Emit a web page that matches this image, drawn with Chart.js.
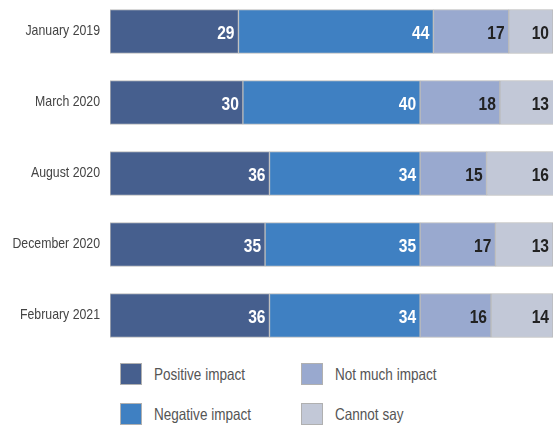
<!DOCTYPE html>
<html>
<head>
<meta charset="utf-8">
<script src="https://cdn.jsdelivr.net/npm/chart.js@4.4.0/dist/chart.umd.min.js"></script>
<style>
  body { margin: 0; background: #fff; }
  #wrap { position: relative; width: 554px; height: 425px; overflow: hidden; }
  #box { position: absolute; left: 0; top: -4px; width: 554px; height: 355px; }
  .item { position: absolute; display: flex; align-items: center; font-family: "Liberation Sans", Arial, sans-serif; font-size: 16.5px; color: #555; white-space: nowrap; }
  .swatch { width: 20px; height: 20px; border: 1px solid #b0b0b0; margin-right: 12px; }
  .name { display: inline-block; transform: scaleX(0.82); transform-origin: left center; }
</style>
</head>
<body>
<div id="wrap">
  <div id="box"><canvas id="chart"></canvas></div>
  <div id="legend"></div>
</div>
<script>
const categories = ["January 2019", "March 2020", "August 2020", "December 2020", "February 2021"];
const seriesNames = ["Positive impact", "Negative impact", "Not much impact", "Cannot say"];
const positive = [29, 30, 36, 35, 36];
const negative = [44, 40, 34, 35, 34];
const notMuch = [17, 18, 15, 17, 16];
const cannotSay = [10, 13, 16, 13, 14];

const colors = ["#465f8e", "#3f80c2", "#99a9cf", "#c2c8d7"];
const labelColors = ["#ffffff", "#ffffff", "#222222", "#222222"];
const values = [positive, negative, notMuch, cannotSay];
const squeeze = 0.82;

// narrow text: the original uses a condensed face, so squeeze a normal one
function narrowText(ctx, text, x, y) {
  ctx.save();
  ctx.translate(x, y);
  ctx.scale(squeeze, 1);
  ctx.fillText(text, 0, 0);
  ctx.restore();
}

const barLabels = {
  id: "barLabels",
  afterDatasetsDraw(chart) {
    const ctx = chart.ctx;
    ctx.save();
    ctx.font = "bold 19px 'Liberation Sans', Arial, sans-serif";
    ctx.textAlign = "right";
    ctx.textBaseline = "middle";
    chart.data.datasets.forEach((ds, i) => {
      chart.getDatasetMeta(i).data.forEach((bar, j) => {
        const right = Math.min(bar.x, chart.chartArea.right);
        ctx.fillStyle = labelColors[i];
        narrowText(ctx, String(ds.data[j]), right - 4, bar.y + 2);
      });
    });

    // category names on the left
    const y = chart.scales.y;
    ctx.font = "15px 'Liberation Sans', Arial, sans-serif";
    ctx.fillStyle = "#444";
    categories.forEach((c, j) => {
      narrowText(ctx, c, chart.chartArea.left - 10, y.getPixelForValue(j) - 1);
    });
    ctx.restore();
  }
};

new Chart(document.getElementById("chart"), {
  type: "bar",
  data: {
    labels: categories,
    datasets: seriesNames.map((name, i) => ({
      label: name,
      data: values[i],
      backgroundColor: colors[i],
      borderColor: "#bbbbbb",
      borderWidth: 1,
      borderSkipped: false,
      barThickness: 44
    }))
  },
  options: {
    indexAxis: "y",
    responsive: true,
    maintainAspectRatio: false,
    animation: false,
    layout: { padding: { right: 1, top: 0, bottom: 0, left: 0 } },
    plugins: { legend: { display: false }, tooltip: { enabled: false } },
    scales: {
      x: { stacked: true, min: 0, max: 100, display: false },
      y: {
        stacked: true,
        grid: { display: false },
        border: { display: false },
        ticks: { display: false },
        afterFit(scale) { scale.width = 110; }
      }
    }
  },
  plugins: [barLabels]
});

// legend in two columns: first column positive/negative, second not much/cannot say
const legend = document.getElementById("legend");
const spots = [[120, 363], [120, 403], [301, 363], [301, 403]];
seriesNames.forEach((name, i) => {
  const item = document.createElement("div");
  item.className = "item";
  item.style.left = spots[i][0] + "px";
  item.style.top = spots[i][1] + "px";
  item.innerHTML = `<span class="swatch" style="background:${colors[i]}"></span><span class="name">${name}</span>`;
  legend.appendChild(item);
});
</script>
</body>
</html>
